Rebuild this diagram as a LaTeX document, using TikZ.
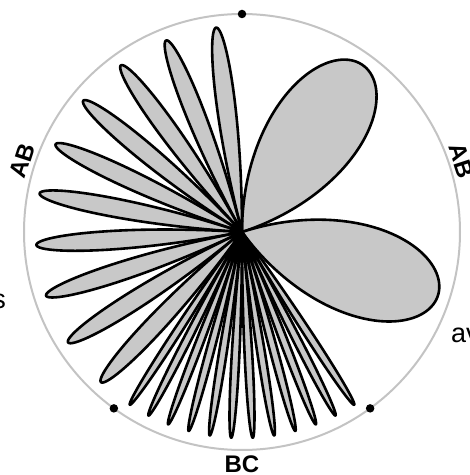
\documentclass[tikz,border=0pt]{standalone}
\usepackage{fontspec}
\setmainfont{Liberation Sans}
\definecolor{petalfill}{RGB}{200,200,200}
\definecolor{ringgray}{RGB}{195,195,195}
\newcommand\petal[2]{\draw[petal, shift={(O)}] plot[domain=-#2:#2, samples=90, smooth] ({#1+\x}:{206*cos(90/#2*\x)}) -- cycle;}
\begin{document}
\begin{tikzpicture}[x=1pt,y=1pt,
  petal/.style={draw=black, fill=petalfill, line width=2.6pt, line join=round},
  ring/.style={draw=ringgray, line width=2pt},
  vdot/.style={circle, fill=black, inner sep=0pt, minimum size=8.5pt},
  axislabel/.style={font=\bfseries\fontsize{24}{24}\selectfont, inner sep=0pt},
  fragment/.style={font=\fontsize{27}{27}\selectfont, inner sep=0pt}]
\useasboundingbox (0,0) rectangle (470,475);
\clip (0,0) rectangle (470,475);
\coordinate (O) at (242,243);
\draw[ring] (O) circle[radius=218];
\petal{54}{36}
\petal{-18}{36}
\foreach \i in {0,...,9} {\petal{97.2+14.4*\i}{7.2}}
\foreach \i in {0,...,11} {\petal{237+6*\i}{3}}
\node[vdot] (d1) at ([shift={(90:218)}]O) {};
\node[vdot] (d2) at ([shift={(234:218)}]O) {};
\node[vdot] (d3) at ([shift={(306:218)}]O) {};
\node[axislabel, rotate=72] (ab1) at ([shift={(162:231)}]O) {AB};
\node[axislabel, rotate=-72] (ab2) at ([shift={(18:231)}]O) {AB};
\node[axislabel] (bc) at ([shift={(270:232)}]O) {BC};
\node[fragment, anchor=base east] (fs) at (6,166) {s};
\node[fragment, anchor=base west] (fav) at (451,132) {av};
\end{tikzpicture}
\end{document}
